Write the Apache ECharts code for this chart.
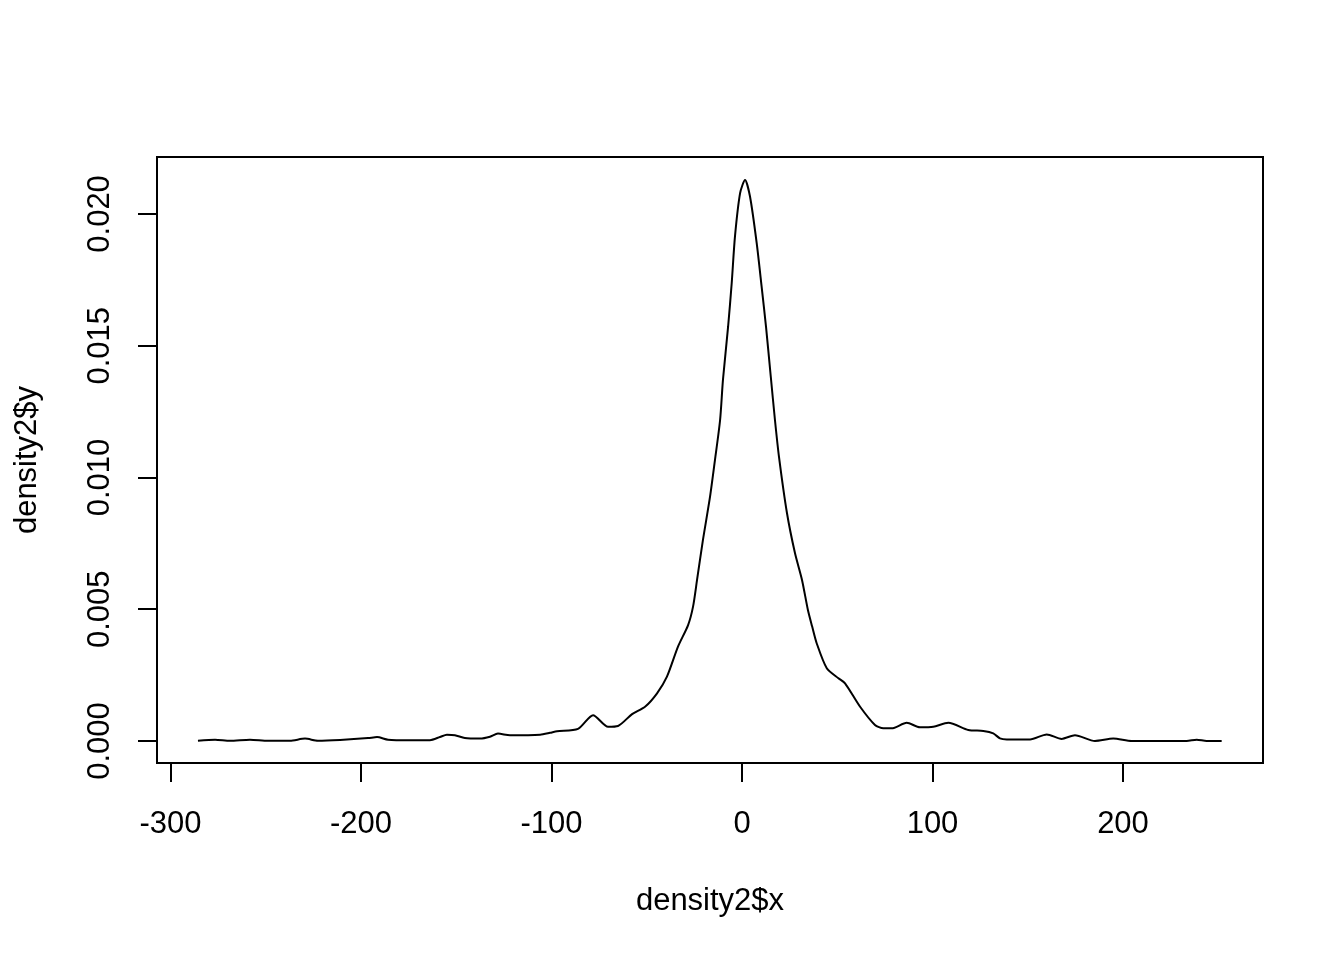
<!DOCTYPE html>
<html>
<head>
<meta charset="utf-8">
<script src="https://cdn.jsdelivr.net/npm/echarts@6/dist/echarts.min.js"></script>
<style>html,body{margin:0;padding:0;background:#fff;}#c{width:1344px;height:960px;}</style>
</head>
<body>
<div id="c"></div>
<script>
const xValues = [-285.6,-276.6,-268.8,-258.3,-248.8,-237.3,-229.4,-222.6,-211.0,-196.3,-191.6,-185.8,-174.3,-163.8,-158.6,-154.9,-150.7,-145.5,-137.5,-132.3,-128.1,-121.8,-106.0,-100.8,-97.1,-86.1,-78.2,-70.3,-65.1,-57.7,-50.9,-44.6,-39.4,-33.6,-28.3,-25.7,-23.6,-20.5,-16.8,-14.2,-11.5,-10.0,-7.3,-5.4,-3.7,-1.0,1.6,4.2,7.7,10.3,12.6,15.1,17.3,19.4,23.6,27.8,31.5,34.6,36.8,39.2,44.5,50.6,54.1,62.0,69.8,74.2,78.6,86.5,93.4,100.4,108.3,118.8,126.7,131.9,135.4,139.0,151.2,160.0,167.8,174.8,185.3,194.9,204.6,233.4,238.7,243.9,251.8];
const yValues = [0.00001,0.00005,0.00001,0.00005,0.00001,0.00001,0.00009,0.00001,0.00004,0.00011,0.00015,0.00005,0.00003,0.00003,0.00015,0.00024,0.00022,0.00011,0.00009,0.00016,0.00028,0.00022,0.00024,0.00031,0.00037,0.00046,0.00098,0.00054,0.00057,0.00102,0.00130,0.00181,0.00244,0.00358,0.00440,0.00510,0.00611,0.00763,0.00926,0.01066,0.01218,0.01370,0.01572,0.01738,0.01914,0.02079,0.02129,0.02066,0.01890,0.01724,0.01572,0.01383,0.01218,0.01079,0.00865,0.00713,0.00611,0.00497,0.00435,0.00371,0.00276,0.00238,0.00219,0.00130,0.00061,0.00048,0.00048,0.00069,0.00052,0.00054,0.00069,0.00042,0.00038,0.00029,0.00010,0.00006,0.00006,0.00025,0.00008,0.00022,0.00000,0.00009,0.00000,0.00000,0.00005,0.00000,0.00000];
const xTicks = [-300,-200,-100,0,100,200];
const yTicks = [0.000,0.005,0.010,0.015,0.020];
const xTitle = 'density2$x';
const yTitle = 'density2$y';

const data = xValues.map((x,i)=>[x,yValues[i]]);
const FONT = 'Liberation Sans, Arial, sans-serif';
const FS = 31;
const chart = echarts.init(document.getElementById('c'));
chart.setOption({
  animation:false,
  backgroundColor:'#fff',
  grid:{left:157,right:81,top:157,bottom:197,show:true,borderColor:'#000',borderWidth:2,backgroundColor:'transparent'},
  xAxis:{type:'value',min:-307.1,max:273.5,
    axisLine:{show:false,onZero:false},splitLine:{show:false},
    axisTick:{show:true,inside:false,length:19,lineStyle:{color:'#000',width:2},customValues:xTicks},
    axisLabel:{show:true,margin:46,color:'#000',fontSize:FS,fontFamily:FONT,customValues:xTicks,formatter:v=>String(v)}
  },
  yAxis:{type:'value',min:-0.000835,max:0.02216,
    axisLine:{show:false,onZero:false},splitLine:{show:false},
    axisTick:{show:true,inside:false,length:19,lineStyle:{color:'#000',width:2},customValues:yTicks},
    axisLabel:{show:true,rotate:90,margin:41,color:'#000',fontSize:FS,fontFamily:FONT,customValues:yTicks,formatter:v=>v.toFixed(3)}
  },
  graphic:[
    {type:'text',x:710,y:901,style:{text:xTitle,fontSize:FS,fontFamily:FONT,fill:'#000',align:'center',verticalAlign:'middle'},silent:true},
    {type:'text',x:27,y:460,rotation:Math.PI/2,style:{text:yTitle,fontSize:FS,fontFamily:FONT,fill:'#000',align:'center',verticalAlign:'middle'},silent:true}
  ],
  series:[{type:'line',data:data,showSymbol:false,smooth:0.25,lineStyle:{color:'#000',width:2},clip:true}]
});
</script>
</body>
</html>
